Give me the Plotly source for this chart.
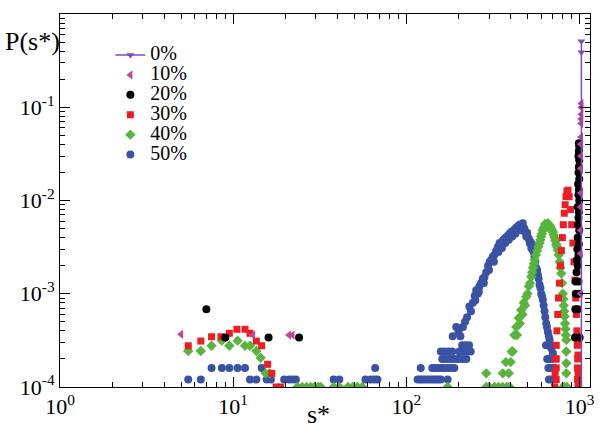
import plotly.graph_objects as go

# ---------------- data ----------------
s_0 = [1024, 1024, 1024]
p_0 = [0.51, 0.39, 1e-6]

s_10 = [5, 13, 21, 22,
        1024, 1023, 1022, 1021, 1020, 1019, 1018, 1017, 1016, 1015, 1014, 1013, 1012, 1011]
p_10 = [3.67e-4, 3.6e-4, 3.6e-4, 3.6e-4,
        0.11, 0.10, 0.084, 0.075, 0.067, 0.048, 0.040, 0.030, 0.022, 0.012, 0.0085, 0.0048, 0.0027, 0.0010]

s_20 = [7, 9, 16, 24,
        940, 1000, 945, 975, 950, 990, 948, 985, 960, 975, 965, 985, 970, 990, 975, 995,
        980, 985, 990, 975, 995, 985, 990, 980, 995, 985, 990, 995, 985, 990, 995, 990]
p_20 = [6.8e-4, 3.4e-4, 3.4e-4, 3.4e-4,
        3.4e-4, 3.4e-4, 6.8e-4, 6.8e-4, 1.0e-3, 1.0e-3, 1.35e-3, 1.35e-3, 1.7e-3, 2.0e-3, 2.3e-3, 2.6e-3, 3.0e-3, 3.4e-3, 4.0e-3, 4.8e-3,
        5.5e-3, 6.5e-3, 7.5e-3, 8.5e-3, 1.0e-2, 1.15e-2, 1.3e-2, 1.5e-2, 1.7e-2, 2.0e-2, 2.3e-2, 2.7e-2, 3.0e-2, 3.4e-2, 3.8e-2, 4.1e-2]

s_30 = [5.5, 6.5, 7.5, 8.5, 9.5, 10.5, 11.7, 12.5, 13.6, 14.6, 15.8, 16.7, 17.7, 18.8,
        717, 722, 727, 733, 740, 748, 756, 765, 775, 785, 795, 805, 815, 825, 835, 845, 856,
        870, 885, 900, 915, 928, 940, 950, 958, 965, 970, 975, 980, 985,
        733, 733, 733, 973, 973, 973, 978, 978]
p_30 = [2.77e-4, 3.11e-4, 3.46e-4, 3.46e-4, 3.77e-4, 4.16e-4, 4.16e-4, 3.77e-4, 3.11e-4, 2.77e-4, 1.75e-4, 1.4e-4, 1.0e-4, 1.0e-4,
        1.0e-4, 1.4e-4, 2.0e-4, 2.8e-4, 4.0e-4, 6.0e-4, 9.0e-4, 1.3e-3, 2.0e-3, 2.9e-3, 4.0e-3, 5.5e-3, 7.3e-3, 9.0e-3, 1.1e-2, 1.25e-2, 1.29e-2,
        1.1e-2, 8.0e-3, 5.5e-3, 3.5e-3, 2.2e-3, 1.4e-3, 9.0e-4, 6.0e-4, 4.0e-4, 2.8e-4, 2.0e-4, 1.4e-4, 1.1e-4,
        1.2e-4, 1.6e-4, 2.0e-4, 3.0e-4, 1.6e-4, 1.2e-4, 2.2e-4, 1.0e-4]

s_40 = [5.5, 6.5, 7.5, 8.6, 9.5, 10.6, 11.7, 12.5, 13.6, 14.4, 15.4, 16.2,
        23.5, 25, 26.5, 28, 29.5, 31, 32, 38, 41, 46, 49, 52, 55.6, 173,
        289, 289, 300, 323, 340, 359, 380, 394, 360, 375, 390, 400, 405, 411,
        420, 431, 445, 460, 476, 492, 509, 526, 538, 550, 568, 587, 600, 613, 625, 640, 656,
        670, 686, 700, 717, 733, 749, 766, 784, 800, 810, 819, 828, 838, 838, 838, 838, 845, 800, 819,
        435, 452, 468, 484, 500, 518, 532, 544, 560, 578, 594, 606, 620, 632, 648, 662,
        678, 692, 708, 725, 741, 757, 775, 792, 805, 815, 824, 833]
p_40 = [2.43e-4, 2.43e-4, 2.77e-4, 3.14e-4, 2.77e-4, 3.14e-4, 2.77e-4, 2.77e-4, 2.43e-4, 2.06e-4, 1.4e-4, 1.4e-4,
        1.0e-4, 1.0e-4, 1.0e-4, 1.0e-4, 1.0e-4, 1.0e-4, 1.0e-4, 1.0e-4, 1.0e-4, 1.0e-4, 1.0e-4, 1.0e-4, 1.0e-4, 1.0e-4,
        1.4e-4, 1.0e-4, 1.0e-4, 1.0e-4, 1.0e-4, 1.0e-4, 1.0e-4, 1.0e-4, 1.4e-4, 1.85e-4, 1.4e-4, 1.85e-4, 2.4e-4, 2.4e-4,
        3.6e-4, 4.4e-4, 5.5e-4, 6.7e-4, 8.0e-4, 9.3e-4, 1.2e-3, 1.52e-3, 1.9e-3, 2.3e-3, 2.9e-3, 3.5e-3, 4.1e-3, 4.8e-3, 5.2e-3, 5.5e-3, 5.7e-3,
        5.4e-3, 5.0e-3, 4.6e-3, 4.0e-3, 3.4e-3, 2.95e-3, 2.2e-3, 1.65e-3, 1.0e-3, 7.5e-4, 5.7e-4, 4.2e-4, 3.2e-4, 2.4e-4, 1.8e-4, 1.4e-4, 1.0e-4, 1.0e-4, 1.0e-4,
        3.6e-4, 4.8e-4, 6.0e-4, 7.5e-4, 1.0e-3, 1.3e-3, 1.7e-3, 2.1e-3, 2.6e-3, 3.2e-3, 3.8e-3, 4.4e-3, 5.0e-3, 5.6e-3, 5.2e-3, 5.5e-3,
        5.2e-3, 4.8e-3, 4.3e-3, 3.7e-3, 3.2e-3, 2.6e-3, 1.9e-3, 1.3e-3, 8.8e-4, 6.5e-4, 4.8e-4, 3.6e-4]

s_50 = [5.5, 6.5, 7.5, 8.6, 9.5, 10.6, 11.7, 12.5, 13.6, 14.6, 15.6, 16.5, 19.7, 21, 22, 23, 38, 41, 58, 62, 65, 66, 68,
        116, 120, 124, 128, 133, 138, 143, 148, 153, 158, 173,
        121, 141, 146, 152, 158, 164, 170, 176, 183, 189,
        161, 168, 176, 184, 192, 201, 211, 222,
        158, 166, 175, 184, 202, 212, 224, 235,
        210, 220, 230,
        185, 194, 200, 205, 212, 218, 224, 231, 236, 242, 248, 253, 258, 264, 270, 276, 282, 289, 296, 303,
        309, 315, 322, 330, 338, 345, 352, 360, 368, 376, 385, 394, 403, 412, 421, 430, 440, 450, 460, 470,
        480, 492, 503, 515, 526, 537, 549, 561, 574, 587, 600, 613, 627, 642, 656, 671, 686, 701,
        250, 262, 280, 300, 320, 340, 356, 372, 390, 408, 425, 445, 462, 475, 486, 498, 509, 520, 532, 543,
        555, 568, 580, 594, 606, 620, 634, 648, 664, 678,
        640, 660, 680, 650, 670, 690, 660, 680, 700, 717, 665, 690, 717]
p_50 = [1.2e-4, 1.2e-4, 1.6e-4, 1.6e-4, 1.6e-4, 1.6e-4, 1.6e-4, 1.2e-4, 1.2e-4, 1.6e-4, 1.2e-4, 1.2e-4, 1.2e-4, 1.2e-4, 1.2e-4, 1.2e-4, 1.2e-4, 1.2e-4, 1.2e-4, 1.2e-4, 1.2e-4, 1.6e-4, 1.2e-4,
        1.2e-4, 1.2e-4, 1.2e-4, 1.2e-4, 1.2e-4, 1.2e-4, 1.2e-4, 1.2e-4, 1.2e-4, 1.2e-4, 1.2e-4,
        1.6e-4, 1.6e-4, 1.6e-4, 1.6e-4, 1.6e-4, 1.6e-4, 1.6e-4, 1.6e-4, 1.6e-4, 1.6e-4,
        2.0e-4, 2.0e-4, 2.0e-4, 2.0e-4, 2.0e-4, 2.0e-4, 2.0e-4, 2.0e-4,
        2.4e-4, 2.4e-4, 2.4e-4, 2.4e-4, 2.4e-4, 2.4e-4, 2.4e-4, 2.4e-4,
        2.8e-4, 2.8e-4, 2.8e-4,
        3.5e-4, 4.4e-4, 3.9e-4, 3.5e-4, 4.4e-4, 5.0e-4, 5.6e-4, 7.3e-4, 6.5e-4, 8.0e-4, 9.5e-4, 1.09e-3, 1.0e-3, 1.2e-3, 1.3e-3, 1.45e-3, 1.5e-3, 1.7e-3, 2.0e-3, 2.2e-3,
        2.3e-3, 2.5e-3, 2.6e-3, 2.9e-3, 3.2e-3, 3.5e-3, 3.4e-3, 3.7e-3, 3.9e-3, 4.0e-3, 4.2e-3, 4.4e-3, 4.6e-3, 4.7e-3, 4.9e-3, 5.1e-3, 5.3e-3, 5.5e-3, 5.4e-3, 5.7e-3,
        5.0e-3, 4.1e-3, 4.0e-3, 3.5e-3, 3.1e-3, 2.95e-3, 2.5e-3, 1.9e-3, 1.6e-3, 1.25e-3, 1.0e-3, 8.6e-4, 6.5e-4, 4.8e-4, 3.9e-4, 3.2e-4, 2.6e-4, 2.3e-4,
        8.5e-4, 1.05e-3, 1.3e-3, 1.8e-3, 2.2e-3, 2.8e-3, 3.1e-3, 3.5e-3, 3.8e-3, 4.1e-3, 4.4e-3, 4.8e-3, 5.0e-3, 4.7e-3, 4.6e-3, 4.5e-3, 3.9e-3, 3.6e-3, 3.4e-3, 2.8e-3,
        2.2e-3, 1.8e-3, 1.45e-3, 1.15e-3, 9.5e-4, 7.5e-4, 5.6e-4, 4.4e-4, 3.5e-4, 2.8e-4,
        2.8e-4, 2.8e-4, 2.8e-4, 2.0e-4, 2.0e-4, 2.0e-4, 1.6e-4, 1.6e-4, 1.6e-4, 1.6e-4, 1.2e-4, 1.2e-4, 1.2e-4]

x_tickvals = [1, 10, 100, 1000]
x_ticktext = ["10<sup>0</sup>", "10<sup>1</sup>", "10<sup>2</sup>", "10<sup>3</sup>"]
y_tickvals = [1e-4, 1e-3, 1e-2, 1e-1, 1]
y_ticktext = ["10<sup>-4</sup>", "10<sup>-3</sup>", "10<sup>-2</sup>", "10<sup>-1</sup>", "10<sup>0</sup>"]

labels = ["0%", "10%", "20%", "30%", "40%", "50%"]
colors = ["#7b4cb8", "#c2459c", "#000000", "#ee1d24", "#58b43c", "#3a52a6"]

# ---------------- figure ----------------
FONT = "Liberation Serif"

def lg(t):
    return '<span style="font-size:20px">' + t + '</span>'

traces = [
    go.Scatter(x=s_0, y=p_0, mode="lines+markers", name=lg(labels[0]), legendrank=1,
               line=dict(color=colors[0], width=1.5),
               marker=dict(symbol="triangle-down", size=7, color=colors[0])),
    go.Scatter(x=s_10, y=p_10, mode="markers", name=lg(labels[1]), legendrank=2,
               marker=dict(symbol="triangle-left", size=8, color=colors[1])),
    go.Scatter(x=s_20, y=p_20, mode="markers", name=lg(labels[2]), legendrank=3,
               marker=dict(symbol="circle", size=8, color=colors[2])),
    go.Scatter(x=s_30, y=p_30, mode="markers", name=lg(labels[3]), legendrank=4,
               marker=dict(symbol="square", size=7, color=colors[3])),
    go.Scatter(x=s_40, y=p_40, mode="markers", name=lg(labels[4]), legendrank=5,
               marker=dict(symbol="diamond", size=8, color=colors[4])),
    go.Scatter(x=s_50, y=p_50, mode="markers", name=lg(labels[5]), legendrank=6,
               marker=dict(symbol="circle", size=8, color=colors[5])),
]
# 50% drawn at the back, narrow peaks on top
fig = go.Figure(data=list(reversed(traces)))

minor_x = [2, 3, 4, 5, 6, 7, 8, 9, 20, 30, 40, 50, 60, 70, 80, 90, 200, 300, 400, 500, 600, 700, 800, 900]
minor_y = [m * 10 ** e for e in (-4, -3, -2, -1) for m in (2, 3, 4, 5, 6, 7, 8, 9)]

fig.update_layout(
    width=600, height=434,
    margin=dict(l=60, r=10, t=14, b=47),
    paper_bgcolor="white", plot_bgcolor="white",
    font=dict(family=FONT, size=20, color="black"),
    showlegend=True,
    legend=dict(x=0.095, y=0.93, xanchor="left", yanchor="top",
                bgcolor="rgba(0,0,0,0)", borderwidth=0,
                font=dict(family=FONT, size=13, color="black"),
                itemclick=False),
    xaxis=dict(type="log", range=[0, 3.06], showline=True, linecolor="black", linewidth=1,
               mirror="ticks", ticks="inside", ticklen=10, tickwidth=1, tickcolor="black",
               tickmode="array", tickvals=x_tickvals, ticktext=x_ticktext,
               showgrid=False, zeroline=False, automargin=False,
               tickfont=dict(family=FONT, size=22),
               minor=dict(tickmode="array", tickvals=minor_x, ticks="inside", ticklen=5,
                          tickwidth=1, tickcolor="black", showgrid=False)),
    yaxis=dict(type="log", range=[-4, 0], showline=True, linecolor="black", linewidth=1,
               mirror="ticks", ticks="inside", ticklen=10, tickwidth=1, tickcolor="black",
               tickmode="array", tickvals=y_tickvals, ticktext=y_ticktext,
               showgrid=False, zeroline=False, automargin=False,
               tickfont=dict(family=FONT, size=22),
               minor=dict(tickmode="array", tickvals=minor_y, ticks="inside", ticklen=5,
                          tickwidth=1, tickcolor="black", showgrid=False)),
    annotations=[
        dict(text="s*", xref="paper", yref="paper", x=0.487, y=-0.075, xanchor="center",
             yanchor="middle", showarrow=False, font=dict(family=FONT, size=26)),
        dict(text="P(s*)", xref="paper", yref="paper", x=-0.108, y=0.925, xanchor="left",
             yanchor="middle", showarrow=False, font=dict(family=FONT, size=26)),
    ],
)

fig.write_html("out.html", config={"displayModeBar": False},
               post_script="document.body.style.margin='0';")
